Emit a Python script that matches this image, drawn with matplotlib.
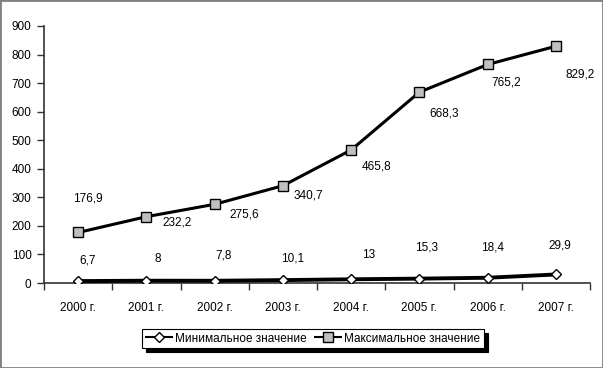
import matplotlib.pyplot as plt
import matplotlib.patches as ptch
from matplotlib.ticker import FixedLocator, MultipleLocator
import numpy as np

plt.rcParams['font.family'] = ['Liberation Sans', 'DejaVu Sans']

years = ['2000 г.', '2001 г.', '2002 г.', '2003 г.', '2004 г.', '2005 г.', '2006 г.', '2007 г.']
min_vals = [6.7, 8, 7.8, 10.1, 13, 15.3, 18.4, 29.9]
max_vals = [176.9, 232.2, 275.6, 340.7, 465.8, 668.3, 765.2, 829.2]
min_labels = ['6,7', '8', '7,8', '10,1', '13', '15,3', '18,4', '29,9']
max_labels = ['176,9', '232,2', '275,6', '340,7', '465,8', '668,3', '765,2', '829,2']

# label offsets in pixels (dx right, dy up), as Excel placed them
min_offsets = [(10, 21), (11, 22), (9, 25), (10, 22), (17, 24), (7, 31), (5, 30), (4, 29)]
max_offsets = [(10, 34), (31, -6), (30, -10), (25, -10), (25, -17), (25, -21), (19, -18), (24, -28)]

fig = plt.figure(figsize=(6.03, 3.68), dpi=100)
ax = fig.add_axes([44 / 603, 1 - 283 / 368, (590 - 44) / 603, (283 - 26) / 368])

x = np.arange(len(years))
ax.plot(x, min_vals, color='black', lw=2.8, marker='D', ms=5.5, mfc='white', mec='black',
        mew=1, label='Минимальное значение', zorder=3)
ax.plot(x, max_vals, color='black', lw=2.2, marker='s', ms=7, mfc='#c0c0c0', mec='black',
        mew=1, label='Максимальное значение', zorder=3)

for xi, v, t, (dx, dy) in zip(x, min_vals, min_labels, min_offsets):
    ax.annotate(t, (xi, v), xytext=(dx, dy), textcoords='offset pixels',
                ha='center', va='center', fontsize=8.5)
for xi, v, t, (dx, dy) in zip(x, max_vals, max_labels, max_offsets):
    ax.annotate(t, (xi, v), xytext=(dx, dy), textcoords='offset pixels',
                ha='center', va='center', fontsize=8.5)

ax.set_xlim(-0.5, len(years) - 0.5)
ax.set_ylim(0, 900)
ax.yaxis.set_major_locator(MultipleLocator(100))
ax.xaxis.set_major_locator(FixedLocator(x))
ax.set_xticklabels(years)
ax.xaxis.set_minor_locator(FixedLocator(np.arange(len(years) + 1) - 0.5))
ax.tick_params(axis='x', which='major', length=0, pad=14, labelsize=8.5)
ax.tick_params(axis='x', which='minor', length=5, width=1, color='#333333', direction='out')
ax.tick_params(axis='y', length=5, width=1, color='#333333', labelsize=8.5, pad=4)

for s in ['top', 'right']:
    ax.spines[s].set_visible(False)
for s in ['left', 'bottom']:
    ax.spines[s].set_color('#333333')
    ax.spines[s].set_linewidth(1.2)

leg = fig.legend(loc='center', bbox_to_anchor=(313 / 603, 1 - 338.5 / 368), ncol=2,
                 fontsize=8.5, frameon=True, fancybox=False,
                 shadow={'color': 'black', 'alpha': 1, 'ox': 3, 'oy': -3},
                 edgecolor='black', handlelength=2.2, handletextpad=0.3, columnspacing=0.7,
                 borderpad=0.3)
leg.get_frame().set_linewidth(0.8)
for ln in leg.get_lines():
    ln.set_linewidth(1.5)

fig.patches.append(ptch.Rectangle((0, 0), 1, 1, transform=fig.transFigure, fill=False,
                                  edgecolor='#808080', lw=2))

fig.savefig('out.png', dpi=100)
